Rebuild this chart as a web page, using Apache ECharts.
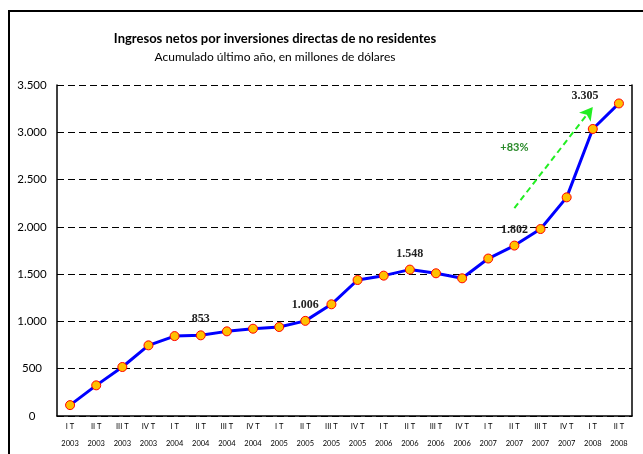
<!DOCTYPE html>
<html>
<head>
<meta charset="utf-8">
<script src="https://cdn.jsdelivr.net/npm/echarts@6/dist/echarts.min.js"></script>
<style>
html,body{margin:0;padding:0;background:#fff;overflow:hidden;}
#chart{position:absolute;left:0;top:0;width:643px;height:454px;}
#frame{position:absolute;left:8px;top:10px;width:700px;height:500px;border:2px solid #000;pointer-events:none;}
</style>
</head>
<body>
<div id="chart"></div>
<div id="frame"></div>
<script>
const quarters = ['I T','II T','III T','IV T','I T','II T','III T','IV T','I T','II T','III T','IV T','I T','II T','III T','IV T','I T','II T','III T','IV T','I T','II T'];
const years = ['2003','2003','2003','2003','2004','2004','2004','2004','2005','2005','2005','2005','2006','2006','2006','2006','2007','2007','2007','2007','2008','2008'];
const values = [115, 324, 518, 747, 845, 853, 895, 923, 941, 1006, 1181, 1438, 1484, 1548, 1509, 1456, 1665, 1802, 1977, 2312, 3035, 3305];
const labeledIdx = [5, 9, 13, 17, 21];
const yTicks = [0, 500, 1000, 1500, 2000, 2500, 3000, 3500];
const arrowFrom = [16.8, 2199];
const arrowTo = [19.6, 3267];
const arrowText = '+83%';
const arrowTextAt = [16.9, 2844];

const categories = quarters.map((q, i) => q + '\n' + years[i]);
const fmt = v => v.toString().replace(/\B(?=(\d{3})+(?!\d))/g, '.');

const seriesData = values.map((v, i) => {
  const d = { value: v };
  if (labeledIdx.includes(i)) {
    d.label = { show: true };
    if (i === values.length - 1) d.label.offset = [-34, 8.5];
  }
  return d;
});

const chart = echarts.init(document.getElementById('chart'), null, { renderer: 'canvas' });
chart.setOption({
  animation: false,
  backgroundColor: '#fff',
  title: [
    { text: 'Ingresos netos por inversiones directas de no residentes', left: 270, top: 27, textAlign: 'center',
      textStyle: { fontFamily: 'Lato', fontWeight: 'bold', fontSize: 13, color: '#000' } },
    { text: 'Acumulado último año, en millones de dólares', left: 270, top: 46, textAlign: 'center',
      textStyle: { fontFamily: 'Lato', fontWeight: 'normal', fontSize: 12, color: '#000' } }
  ],
  grid: { left: 57, right: 11, top: 85, bottom: 38, containLabel: false },
  xAxis: {
    type: 'category',
    data: categories,
    boundaryGap: true,
    axisLine: { lineStyle: { color: '#000', width: 1.5 } },
    axisTick: { show: false },
    axisLabel: { interval: 0, margin: 2, fontSize: 7.5, lineHeight: 17, color: '#000', fontFamily: 'Lato' },
    splitLine: { show: false }
  },
  yAxis: [
    {
      type: 'value', min: yTicks[0], max: yTicks[yTicks.length - 1], interval: 500,
      axisLine: { show: true, lineStyle: { color: '#000', width: 1.5 } },
      axisTick: { show: false },
      axisLabel: { margin: 25, align: 'center', fontSize: 11.5, color: '#000', fontFamily: 'Lato', formatter: v => fmt(v) },
      splitLine: { show: true, lineStyle: { color: '#000', type: [7, 4], width: 1 } }
    },
    {
      type: 'value', position: 'right', min: yTicks[0], max: yTicks[yTicks.length - 1], interval: 500,
      axisLine: { show: true, lineStyle: { color: '#000', width: 1.5 } },
      axisTick: { show: false }, axisLabel: { show: false }, splitLine: { show: false }
    }
  ],
  series: [{
    type: 'line',
    data: seriesData,
    symbol: 'circle',
    symbolSize: 9,
    lineStyle: { color: '#0000ff', width: 3 },
    itemStyle: { color: '#ffc000', borderColor: '#ff0000', borderWidth: 1 },
    label: { show: false, position: 'top', distance: 5, formatter: p => fmt(p.value),
      fontFamily: 'Liberation Serif', fontWeight: 'bold', fontSize: 12, color: '#222' },
    z: 3,
    markLine: {
      silent: true,
      animation: false,
      symbol: ['none', 'arrow'],
      symbolSize: [11, 13],
      label: { show: false },
      lineStyle: { color: '#22ee22', type: [6, 4], width: 2 },
      data: [[{ coord: arrowFrom }, { coord: arrowTo }]]
    },
    markPoint: {
      silent: true,
      symbol: 'circle', symbolSize: 0,
      label: { show: true, position: 'inside', formatter: arrowText, color: '#2a8a2a', fontWeight: 'bold', fontSize: 11, fontFamily: 'Lato' },
      data: [{ coord: arrowTextAt }]
    }
  }]
});
</script>
</body>
</html>
